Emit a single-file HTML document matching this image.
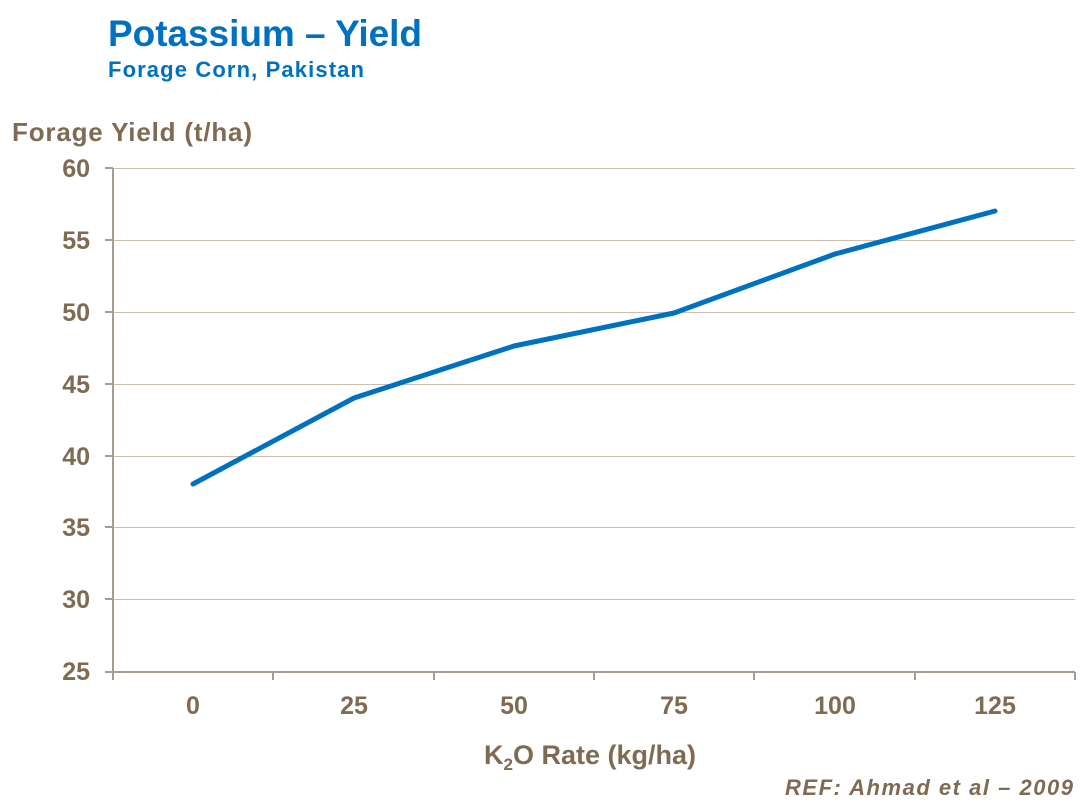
<!DOCTYPE html>
<html><head><style>
body{margin:0;background:#fff;}
svg text{font-family:"Liberation Sans",Arial,sans-serif;font-weight:bold;}
</style></head><body>
<svg width="1085" height="807" xmlns="http://www.w3.org/2000/svg">
<text x="108" y="46" fill="#0070c0" font-size="37" textLength="314">Potassium – Yield</text>
<text x="108" y="77" fill="#0070c0" font-size="22" textLength="256">Forage Corn, Pakistan</text>
<text x="12" y="141" fill="#7f6a52" font-size="26" textLength="240">Forage Yield (t/ha)</text>
<g stroke="#cbbfb2" stroke-width="1">
<line x1="113" y1="168.5" x2="1075" y2="168.5"/>
<line x1="113" y1="240.5" x2="1075" y2="240.5"/>
<line x1="113" y1="312.5" x2="1075" y2="312.5"/>
<line x1="113" y1="384.5" x2="1075" y2="384.5"/>
<line x1="113" y1="456.5" x2="1075" y2="456.5"/>
<line x1="113" y1="527.5" x2="1075" y2="527.5"/>
<line x1="113" y1="599.5" x2="1075" y2="599.5"/>
</g>
<g stroke="#a89c90" stroke-width="2">
<line x1="113" y1="168" x2="113" y2="672"/>
<line x1="105" y1="672" x2="1075" y2="672"/>
<line x1="105" y1="168" x2="113" y2="168"/><line x1="105" y1="240" x2="113" y2="240"/><line x1="105" y1="312" x2="113" y2="312"/><line x1="105" y1="384" x2="113" y2="384"/><line x1="105" y1="456" x2="113" y2="456"/><line x1="105" y1="527" x2="113" y2="527"/><line x1="105" y1="599" x2="113" y2="599"/>
<line x1="113" y1="672" x2="113" y2="680"/><line x1="273" y1="672" x2="273" y2="680"/><line x1="434" y1="672" x2="434" y2="680"/><line x1="594" y1="672" x2="594" y2="680"/><line x1="754" y1="672" x2="754" y2="680"/><line x1="915" y1="672" x2="915" y2="680"/><line x1="1075" y1="672" x2="1075" y2="680"/>
</g>
<g fill="#7f6a52" font-size="25" text-anchor="end">
<text x="90" y="177">60</text><text x="90" y="249">55</text><text x="90" y="321">50</text><text x="90" y="393">45</text><text x="90" y="465">40</text><text x="90" y="536">35</text><text x="90" y="608">30</text><text x="90" y="680">25</text>
</g>
<g fill="#7f6a52" font-size="25" text-anchor="middle">
<text x="193" y="714">0</text><text x="354" y="714">25</text><text x="514" y="714">50</text><text x="674" y="714">75</text><text x="835" y="714">100</text><text x="995" y="714">125</text>
<text x="590" y="764" font-size="27">K<tspan font-size="17" dy="6">2</tspan><tspan dy="-6">O Rate (kg/ha)</tspan></text>
</g>
<text x="785" y="795" fill="#7f6a52" font-size="22" font-style="italic" textLength="288">REF:  Ahmad et al – 2009</text>
<polyline points="193,484 354,398 514,346 674,313 835,254 995,211" fill="none" stroke="#0070c0" stroke-width="5" stroke-linejoin="round" stroke-linecap="round"/>
</svg>
</body></html>
